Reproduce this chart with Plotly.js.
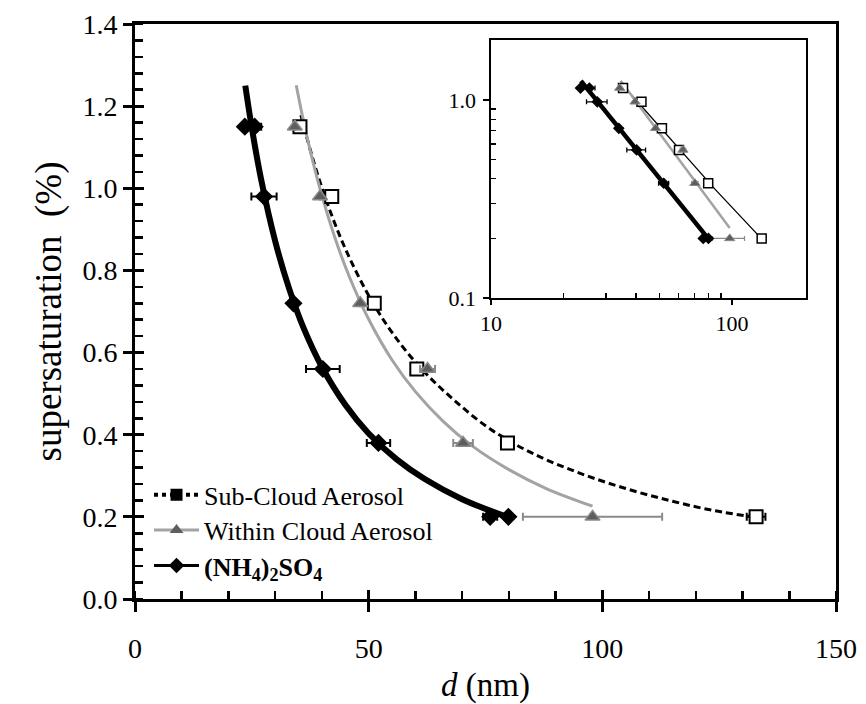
<!DOCTYPE html>
<html>
<head>
<meta charset="utf-8">
<script src="https://cdn.plot.ly/plotly-3.0.1.min.js"></script>
<style>
  html, body { margin: 0; padding: 0; background: #ffffff; }
  #chart { width: 866px; height: 704px; }
</style>
</head>
<body>
<div id="chart"></div>
<script>
// Critical supersaturation vs. activation diameter

// Sub-cloud aerosol
const subCloudD = [35.3, 42.1, 51.2, 60.3, 79.7, 132.9];
const subCloudS = [1.15, 0.98, 0.72, 0.56, 0.38, 0.20];
const subCloudErr = [null, null, null, null, null, 2.0];

// Within-cloud aerosol
const withinD = [34.2, 39.6, 48.2, 62.6, 70.2, 97.9];
const withinS = [1.15, 0.98, 0.72, 0.56, 0.38, 0.20];
const withinErr = [null, null, null, 1.6, 2.1, 14.9];

// Ammonium sulfate calibration
const nh4D = [23.5, 25.6, 27.6, 33.9, 40.2, 52.1, 76.0, 79.9];
const nh4S = [1.15, 1.15, 0.98, 0.72, 0.56, 0.38, 0.20, 0.20];
const nh4Err = [null, 1.4, 2.7, null, 3.6, 2.5, 1.5, null];

// Power-law trend curves
const subFitD = [35.5, 38, 41, 45, 50, 55, 61, 68, 76, 85, 95, 105, 115, 124, 132.3];
const subFitS = [1.178, 1.074, 0.968, 0.853, 0.739, 0.649, 0.564, 0.487, 0.414, 0.355, 0.307, 0.269, 0.238, 0.215, 0.200];
const withinFitD = [34.5, 36, 38, 40, 43, 46, 50, 55, 60, 66, 72, 80, 88, 97.9];
const withinFitS = [1.251, 1.167, 1.068, 0.982, 0.872, 0.781, 0.681, 0.582, 0.505, 0.432, 0.374, 0.315, 0.269, 0.226];
const nh4FitD = [23.6, 25, 27, 30, 33, 36, 40, 45, 50, 56, 62, 70, 79.6];
const nh4FitS = [1.25, 1.147, 1.021, 0.871, 0.755, 0.662, 0.565, 0.473, 0.403, 0.340, 0.292, 0.243, 0.200];

// Legend labels
const legendNames = [
  'Sub-Cloud Aerosol',
  'Within Cloud Aerosol',
  '<b>(NH<sub>4</sub>)<sub>2</sub>SO<sub>4</sub></b>'
];

// Axis ticks
const mainXTicks = [0, 50, 100, 150];
const mainYTicks = [0, 0.2, 0.4, 0.6, 0.8, 1.0, 1.2, 1.4];
const insetXTicks = [10, 100];
const insetXText = ['10', '100'];
const insetYTicks = [0.1, 1];
const insetYText = ['0.1', '1.0'];
const insetXMinor = [20, 30, 40, 50, 60, 70, 80, 90];
const insetYMinor = [0.2, 0.3, 0.4, 0.5, 0.6, 0.7, 0.8, 0.9];

const FONT = '"Liberation Serif", "Times New Roman", serif';
const GREY_LINE = '#a3a3a3';
const GREY_MARK = '#5e5e5e';
const GREY_EDGE = '#8a8a8a';

function errX(arr, color, thick, w) {
  return { type: 'data', array: arr, visible: true, color: color, thickness: thick, width: w };
}

const traces = [
  // ---- main panel: trend curves
  { x: subFitD, y: subFitS, mode: 'lines', line: { color: '#000', width: 3, dash: '7px,4px', shape: 'spline' },
    showlegend: false, hoverinfo: 'skip' },
  { x: withinFitD, y: withinFitS, mode: 'lines', line: { color: GREY_LINE, width: 3, shape: 'spline' },
    showlegend: false, hoverinfo: 'skip' },
  { x: nh4FitD, y: nh4FitS, mode: 'lines', line: { color: '#000', width: 6, shape: 'spline' },
    showlegend: false, hoverinfo: 'skip' },
  // ---- main panel: measured points
  { x: subCloudD, y: subCloudS, mode: 'markers',
    marker: { symbol: 'square', size: 13, color: '#fff', line: { color: '#000', width: 2 } },
    error_x: errX(subCloudErr, '#000', 2, 4), showlegend: false },
  { x: withinD, y: withinS, mode: 'markers',
    marker: { symbol: 'triangle-up', size: 13, color: GREY_MARK, line: { color: GREY_EDGE, width: 1.5 } },
    error_x: errX(withinErr, GREY_EDGE, 2, 4), showlegend: false },
  { x: nh4D, y: nh4S, mode: 'markers',
    marker: { symbol: 'diamond', size: 14, color: '#000' },
    error_x: errX(nh4Err, '#000', 2, 4), showlegend: false },

  // ---- inset (log-log)
  { x: subFitD, y: subFitS, xaxis: 'x2', yaxis: 'y2', mode: 'lines',
    line: { color: '#000', width: 1.3 }, showlegend: false, hoverinfo: 'skip' },
  { x: withinFitD, y: withinFitS, xaxis: 'x2', yaxis: 'y2', mode: 'lines',
    line: { color: GREY_LINE, width: 2.5 }, showlegend: false, hoverinfo: 'skip' },
  { x: nh4FitD, y: nh4FitS, xaxis: 'x2', yaxis: 'y2', mode: 'lines',
    line: { color: '#000', width: 4.5 }, showlegend: false, hoverinfo: 'skip' },
  { x: subCloudD, y: subCloudS, xaxis: 'x2', yaxis: 'y2', mode: 'markers',
    marker: { symbol: 'square', size: 9, color: '#fff', line: { color: '#000', width: 1.5 } },
    error_x: errX(subCloudErr, '#000', 1.3, 2.5), showlegend: false },
  { x: withinD, y: withinS, xaxis: 'x2', yaxis: 'y2', mode: 'markers',
    marker: { symbol: 'triangle-up', size: 9, color: GREY_MARK, line: { color: GREY_EDGE, width: 1 } },
    error_x: errX(withinErr, GREY_EDGE, 1.3, 2.5), showlegend: false },
  { x: nh4D, y: nh4S, xaxis: 'x2', yaxis: 'y2', mode: 'markers',
    marker: { symbol: 'diamond', size: 9, color: '#000' },
    error_x: errX(nh4Err, '#000', 1.3, 2.5), showlegend: false },

  // ---- carrier for the inner halves of the main major ticks
  { x: [], y: [], xaxis: 'x3', yaxis: 'y3', mode: 'markers', showlegend: false, hoverinfo: 'skip' },

  // ---- legend entries (one legend box per row)
  { x: [null], y: [null], name: legendNames[0], mode: 'lines+markers', legend: 'legend',
    line: { color: '#000', width: 4, dash: 'dot' }, marker: { symbol: 'square', size: 12, color: '#000' } },
  { x: [null], y: [null], name: legendNames[1], mode: 'lines+markers', legend: 'legend2',
    line: { color: GREY_LINE, width: 3 }, marker: { symbol: 'triangle-up', size: 12, color: GREY_MARK } },
  { x: [null], y: [null], name: legendNames[2], mode: 'lines+markers', legend: 'legend3',
    line: { color: '#000', width: 3 }, marker: { symbol: 'diamond', size: 12, color: '#000' } }
];

function legendBox(yPos) {
  return {
    x: 0.02, y: yPos, xanchor: 'left', yanchor: 'middle',
    bgcolor: 'rgba(0,0,0,0)', borderwidth: 0,
    font: { family: FONT, size: 26, color: '#000' },
    itemwidth: 45
  };
}

const layout = {
  width: 866, height: 704,
  margin: { l: 135, r: 30, t: 24, b: 105, pad: 0 },
  paper_bgcolor: '#fff', plot_bgcolor: '#fff',
  font: { family: FONT, color: '#000' },
  showlegend: true,
  legend: legendBox(0.181),
  legend2: legendBox(0.120),
  legend3: legendBox(0.058),
  xaxis: {
    range: [0, 150], tickmode: 'array', tickvals: mainXTicks,
    ticks: 'outside', ticklen: 10, tickwidth: 3, tickcolor: '#000',
    showline: true, linewidth: 3, linecolor: '#000', mirror: true,
    showgrid: false, zeroline: false, ticklabelstandoff: 12,
    tickfont: { family: FONT, size: 28, color: '#000' },
    minor: { dtick: 10, tick0: 0, ticks: 'inside', ticklen: 8, tickwidth: 2.5, tickcolor: '#000' },
    title: { text: '<i>d</i> (nm)', font: { family: FONT, size: 33, color: '#000' }, standoff: 12 }
  },
  yaxis: {
    range: [0, 1.4], tickmode: 'array', tickvals: mainYTicks, tickformat: '.1f',
    ticks: 'outside', ticklen: 9, tickwidth: 3, tickcolor: '#000',
    showline: true, linewidth: 3, linecolor: '#000', mirror: true,
    showgrid: false, zeroline: false,
    tickfont: { family: FONT, size: 28, color: '#000' },
    minor: { dtick: 0.04, tick0: 0, ticks: 'inside', ticklen: 8, tickwidth: 2.5, tickcolor: '#000' },
    title: { text: 'supersaturation\u00a0 (%)', font: { family: FONT, size: 37, color: '#000' }, standoff: 10 }
  },
  xaxis3: {
    overlaying: 'x', anchor: 'y', range: [0, 150], tickmode: 'array', tickvals: mainXTicks,
    ticks: 'inside', ticklen: 9, tickwidth: 3, tickcolor: '#000',
    showticklabels: false, showline: false, showgrid: false, zeroline: false
  },
  yaxis3: {
    overlaying: 'y', anchor: 'x', range: [0, 1.4], tickmode: 'array', tickvals: mainYTicks,
    ticks: 'inside', ticklen: 9, tickwidth: 3, tickcolor: '#000',
    showticklabels: false, showline: false, showgrid: false, zeroline: false
  },
  xaxis2: {
    type: 'log', domain: [0.508, 0.957], anchor: 'y2', range: [1, 2.307],
    tickmode: 'array', tickvals: insetXTicks, ticktext: insetXText,
    ticks: 'outside', ticklen: 5, tickwidth: 1.5, tickcolor: '#000',
    showline: true, linewidth: 1.8, linecolor: '#000', mirror: true,
    showgrid: false, zeroline: false,
    tickfont: { family: FONT, size: 22, color: '#000' },
    minor: { tickmode: 'array', tickvals: insetXMinor, ticks: 'inside', ticklen: 5, tickwidth: 1.3, tickcolor: '#000' }
  },
  yaxis2: {
    type: 'log', domain: [0.5235, 0.972], anchor: 'x2', range: [-1, 0.303],
    tickmode: 'array', tickvals: insetYTicks, ticktext: insetYText,
    ticks: 'outside', ticklen: 6, tickwidth: 1.5, tickcolor: '#000',
    showline: true, linewidth: 1.8, linecolor: '#000', mirror: true,
    showgrid: false, zeroline: false, ticklabelstandoff: 3,
    tickfont: { family: FONT, size: 22, color: '#000' },
    minor: { tickmode: 'array', tickvals: insetYMinor, ticks: 'inside', ticklen: 5, tickwidth: 1.3, tickcolor: '#000' }
  }
};

Plotly.newPlot('chart', traces, layout, { staticPlot: true, displayModeBar: false });
</script>
</body>
</html>
